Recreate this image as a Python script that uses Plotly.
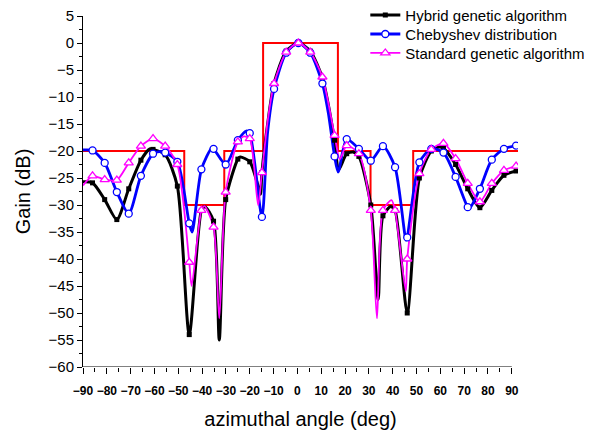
import plotly.graph_objects as go

# ---------------------------------------------------------------------------
# data (angle in deg, gain in dB)
# ---------------------------------------------------------------------------
# marker positions (the sampled points that carry a symbol)
mark_x = [-86, -80.9, -75.8, -70.8, -65.7, -60.6, -55.5, -50.4, -45.4, -40.3,
          -35.2, -30.1, -25, -20, -14.9, -9.8, -4.7, 0.4, 5.4, 10.5,
          15.6, 20.7, 25.8, 30.8, 35.9, 41, 46.1, 51.2, 56.2, 61.3,
          66.4, 71.5, 76.6, 81.6, 86.7, 91.8]

hybrid_y = [-25.9, -29, -32.7, -27, -21.7, -19.7, -20.7, -26.5, -54, -31,
            -33, -29, -21.5, -22, -24, -7.5, -1.5, 0, -1.5, -6.5,
            -18, -20.5, -21, -30, -32, -31, -50, -25, -20, -19.5,
            -22.5, -27, -30.5, -27.3, -24.5, -23.7]
cheb_y = [-19.9, -22.2, -27.6, -31.6, -24.6, -20.5, -20.3, -22, -33.4, -23.4,
          -19.6, -22.5, -18, -16.7, -32.2, -8.5, -1.8, 0, -1.8, -7.5,
          -21, -17.8, -19.6, -21.8, -19.1, -23, -36, -22.1, -19.6, -20.3,
          -24.8, -30.4, -27, -21.6, -19.6, -19]
std_y = [-24.6, -25.3, -25.4, -22.2, -19.1, -17.7, -19.1, -22.5, -40.6, -31,
         -34.1, -27.6, -18.3, -17.7, -24, -7.5, -1.7, 0, -1.7, -6.3,
         -17.1, -19, -20.5, -31, -31, -31, -40, -24.2, -19.7, -18.6,
         -21.4, -26, -29.4, -26, -23.6, -22.8]

# extra curve points between markers (ends, nulls, lobe peaks)
hybrid_ex = [-90, -62, -38.8, -32.8, -24, -16.5, -15.5, -12.5, 17.3, 23.4, 33.9, 39.2, 59]
hybrid_ey = [-25.7, -19.6, -30.3, -55, -21.1, -26.5, -28, -15, -23.5, -20.2, -47.5, -30.3, -19.3]
cheb_ex = [-90, -58, -44.2, -36, -21.5, -12.5, 13, 17.1, 45.6, 72.3]
cheb_ey = [-19.8, -20.1, -35, -19.5, -16.3, -16.5, -13, -23.9, -36.5, -30.6]
std_ex = [-90, -44.4, -39, -32.8, -22.5, -16.5, -12.5, 17.8, 33.4, 39.5, 45.5]
std_ey = [-26.4, -45, -30.2, -51, -17.3, -30, -14.5, -21.5, -51, -29.1, -46]

# desired-pattern mask
mask_x = [-90, -47.5, -47.5, -30.7, -30.7, -14.4, -14.4, 17, 17, 30.7, 30.7, 48.6, 48.6, 92.6]
mask_y = [-20, -20, -30, -30, -20, -20, 0, 0, -20, -20, -30, -30, -20, -20]

x_ticks = list(range(-90, 91, 10))
y_ticks = list(range(-60, 6, 5))

FONT = "Arial, Liberation Sans, sans-serif"


def curve(mx, my, ex, ey):
    pts = sorted(zip(list(mx) + list(ex), list(my) + list(ey)))
    return [p[0] for p in pts], [p[1] for p in pts]


def filled(mk, col):
    # open symbols drawn white-filled so they sit on top of the line
    m = dict(mk)
    if "open" in m["symbol"]:
        m["symbol"] = m["symbol"].replace("-open", "")
        m["color"] = "white"
        m["line"] = dict(width=1.3, color=col)
    return m


series = [
    ("Hybrid genetic algorithm", hybrid_y, hybrid_ex, hybrid_ey, "#000000",
     dict(symbol="square", size=5, color="#000000", line=dict(width=0)), 3),
    ("Chebyshev distribution", cheb_y, cheb_ex, cheb_ey, "#0000ff",
     dict(symbol="circle-open", size=7, color="#0000ff"), 2.8),
    ("Standard genetic algorithm", std_y, std_ex, std_ey, "#ff00ff",
     dict(symbol="triangle-up-open", size=8, color="#ff00ff"), 1.8),
]

fig = go.Figure()

fig.add_trace(go.Scatter(x=mask_x, y=mask_y, mode="lines", showlegend=False,
                         line=dict(color="#ff0000", width=2), hoverinfo="skip"))

for name, my, ex, ey, col, mk, lw in series:
    cx, cy = curve(mark_x, my, ex, ey)
    fig.add_trace(go.Scatter(x=cx, y=cy, mode="lines", showlegend=False,
                             line=dict(color=col, width=lw, shape="spline", smoothing=0.7),
                             hoverinfo="skip"))

for name, my, ex, ey, col, mk, lw in series:
    fig.add_trace(go.Scatter(x=mark_x, y=my, mode="markers", showlegend=False,
                             marker=filled(mk, col), name=name))

# legend proxies, one legend box per row so the row spacing can match
legend_ids = ["legend", "legend2", "legend3"]
for (name, my, ex, ey, col, mk, lw), lg in zip(series, legend_ids):
    fig.add_trace(go.Scatter(x=[None], y=[None], mode="lines+markers", name=name,
                             legend=lg, line=dict(color=col, width=lw),
                             marker=filled(mk, col)))

# bottom axis line only runs to +90
fig.add_shape(type="line", xref="x", yref="y", x0=-90, x1=90, y0=-60, y1=-60,
              line=dict(color="black", width=1))

leg = dict(x=0.649, xanchor="left", yanchor="middle", bgcolor="rgba(0,0,0,0)",
           font=dict(size=15, family=FONT), itemwidth=30)

# the page body adds an 8px margin, so the figure is 8px smaller and the
# left/top margins 8px tighter
fig.update_layout(
    width=584, height=428,
    margin=dict(l=75, r=73.5, t=8, b=69, autoexpand=False),
    paper_bgcolor="white", plot_bgcolor="white",
    font=dict(family=FONT, color="black"),
    showlegend=True,
    legend=dict(leg, y=1.002),
    legend2=dict(leg, y=0.948),
    legend3=dict(leg, y=0.894),
    xaxis=dict(range=[-90, 92.6], tickvals=x_ticks, ticks="outside", ticklen=6,
               tickwidth=1, tickcolor="black", showline=False, showgrid=False,
               zeroline=False, tickangle=0, automargin=False, ticklabelstandoff=7,
               ticklabeloverflow="allow",
               tickfont=dict(size=12, weight="bold"),
               minor=dict(dtick=5, tick0=-90, ticks="outside", ticklen=4, tickcolor="black"),
               title=dict(text="azimuthal angle (deg)", font=dict(size=20), standoff=14)),
    yaxis=dict(range=[-60, 5], tickvals=y_ticks, ticks="outside", ticklen=5,
               tickwidth=1, tickcolor="black", showline=True, linecolor="black",
               linewidth=1, showgrid=False, zeroline=False, automargin=False,
               ticklabeloverflow="allow",
               tickfont=dict(size=15),
               minor=dict(dtick=2.5, tick0=-60, ticks="outside", ticklen=3, tickcolor="black"),
               title=dict(text="Gain (dB)", font=dict(size=20), standoff=12)),
)

fig.write_html("out.html")
